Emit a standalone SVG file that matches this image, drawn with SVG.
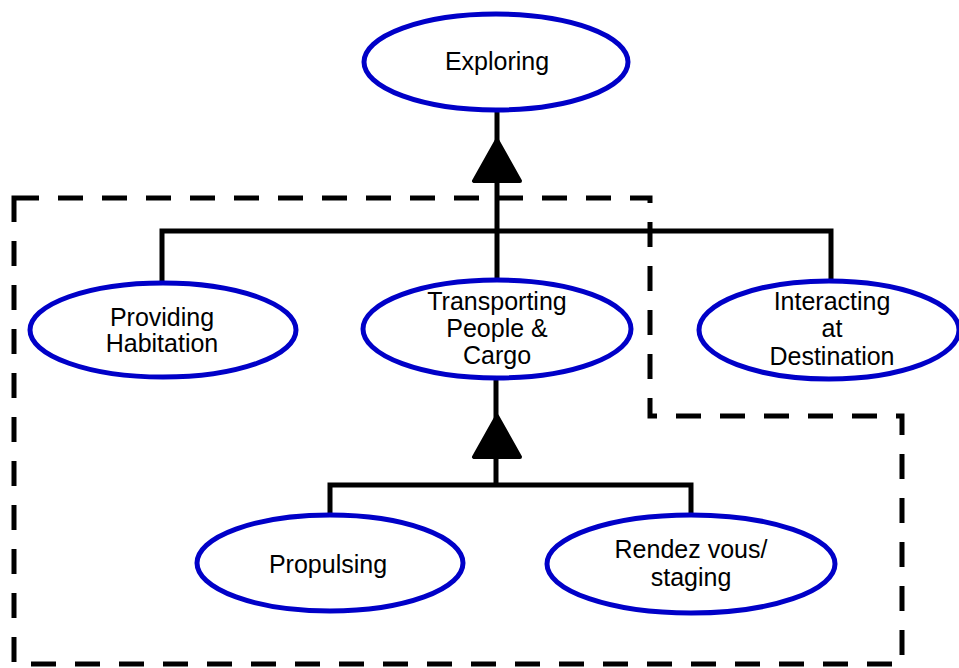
<svg xmlns="http://www.w3.org/2000/svg" width="959" height="668" viewBox="0 0 959 668">
<style>
.node ellipse{fill:#fff;stroke:#0000C8;stroke-width:5}
.node text{font-family:"Liberation Sans",Arial,sans-serif;font-size:25px;fill:#000;text-anchor:middle}
.conn{fill:none;stroke:#000;stroke-width:5}
.tri{fill:#000;stroke:#000;stroke-width:4;stroke-linejoin:round}
.boundary{fill:none;stroke:#000;stroke-width:5;stroke-dasharray:25 19}
</style>
<rect width="959" height="668" fill="#fff"/>
<path class="boundary" d="M14,198 H650 V416 H902 V664 H14 Z"/>
<g id="connectors">
<path class="conn" d="M497,110 V280"/>
<path class="conn" d="M162,283 V231 H831 V281"/>
<polygon class="tri" points="497,140 474,181 520,181"/>
<path class="conn" d="M496,378 V485"/>
<path class="conn" d="M330,515 V485 H691 V514"/>
<polygon class="tri" points="497,416 474,457 520,457"/>
</g>
<g id="exploring" class="node">
<ellipse cx="496" cy="62" rx="132" ry="48"/>
<text x="497" y="70">Exploring</text>
</g>
<g id="providing" class="node">
<ellipse cx="163" cy="330" rx="133" ry="47"/>
<text x="162" y="326">Providing</text>
<text x="162" y="352">Habitation</text>
</g>
<g id="transporting" class="node">
<ellipse cx="497" cy="329" rx="134" ry="49"/>
<text x="497" y="310">Transporting</text>
<text x="497" y="337">People &amp;</text>
<text x="497" y="364">Cargo</text>
</g>
<g id="interacting" class="node">
<ellipse cx="829" cy="330" rx="130" ry="49"/>
<text x="832" y="310">Interacting</text>
<text x="832" y="337">at</text>
<text x="832" y="365">Destination</text>
</g>
<g id="propulsing" class="node">
<ellipse cx="330" cy="563" rx="133" ry="48"/>
<text x="328" y="573">Propulsing</text>
</g>
<g id="rendezvous" class="node">
<ellipse cx="691" cy="564" rx="144" ry="49"/>
<text x="691" y="558">Rendez vous/</text>
<text x="691" y="586">staging</text>
</g>
</svg>
